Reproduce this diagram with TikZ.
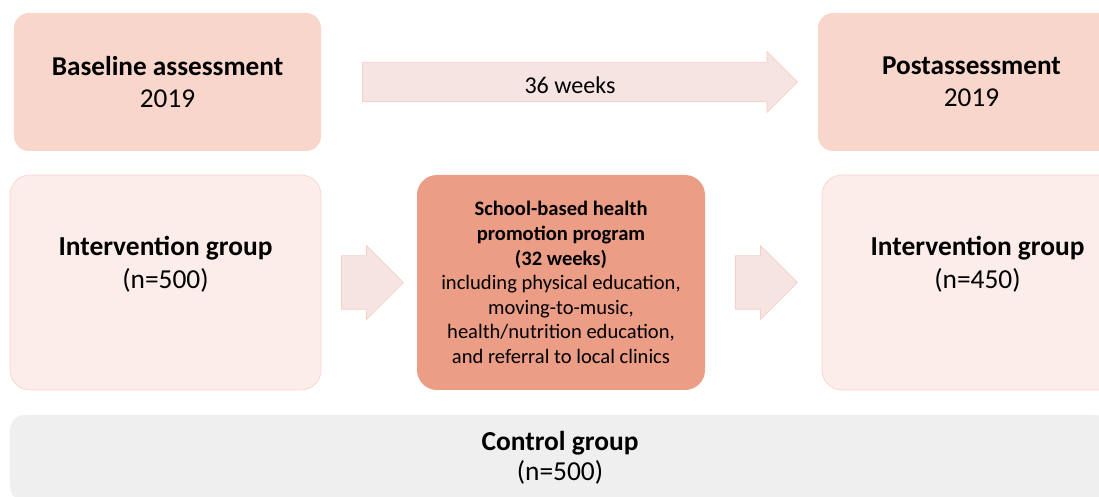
\documentclass[tikz,border=0pt]{standalone}
\usepackage{fontspec}
\setmainfont{Carlito}
\usetikzlibrary{shapes.arrows}
\definecolor{headfill}{RGB}{248,214,203}
\definecolor{groupfill}{RGB}{253,237,234}
\definecolor{groupline}{RGB}{248,212,202}
\definecolor{progfill}{RGB}{236,157,134}
\definecolor{arrowfill}{RGB}{246,228,226}
\definecolor{arrowline}{RGB}{245,208,196}
\definecolor{ctrlfill}{RGB}{239,239,239}

\begin{document}
\begin{tikzpicture}%
	\tikzstyle{head}=[rectangle, rounded corners=0.3cm, fill=headfill, minimum width=6.14cm, minimum height=2.76cm, align=center, font=\fontsize{15.5}{18}\selectfont];
	\tikzstyle{group}=[rectangle, rounded corners=0.4cm, fill=groupfill, draw=groupline, minimum width=6.22cm, minimum height=4.3cm, align=center, font=\fontsize{15.6}{18.5}\selectfont];
	\tikzstyle{bigarrow}=[single arrow, fill=arrowfill, draw=arrowline, inner xsep=0pt, inner ysep=0.16cm, text height=0.46cm, text depth=0pt, single arrow head extend=0.21cm];
	\tikzstyle{smallarrow}=[single arrow, fill=arrowfill, draw=arrowline, inner xsep=0pt, inner ysep=0.53cm, single arrow head extend=0.2cm, minimum height=1.24cm];
	\useasboundingbox (0, 0) rectangle (21.98, 9.94);
	\clip (0, 0) rectangle (21.98, 9.94);
	\node[head] (base) at (3.35, 8.3) {\textbf{Baseline assessment}\\2019};
	\node[head] (post) at (19.43, 8.3) {\textbf{Postassessment}\\2019};
	\node[bigarrow, minimum height=8.7cm, font=\fontsize{13.7}{16}\selectfont] (weeks) at (11.4, 8.3) {36 weeks};
	\node[group] (intleft) at (3.31, 4.29) {\textbf{Intervention group}\\(n=500)\\[0.15cm]};
	\node[smallarrow] (arrleft) at (7.18, 4.29) {};
	\node[rectangle, rounded corners=0.4cm, fill=progfill, minimum width=5.76cm, minimum height=4.3cm, align=center, font=\fontsize{11.7}{14}\selectfont] (prog) at (11.22, 4.29) {\textbf{School-based health}\\\textbf{promotion program}\\\textbf{(32 weeks)}\\including physical education,\\moving-to-music,\\health/nutrition education,\\and referral to local clinics};
	\node[smallarrow] (arrright) at (15.06, 4.29) {};
	\node[group] (intright) at (19.55, 4.29) {\textbf{Intervention group}\\(n=450)\\[0.15cm]};
	\node[rectangle, rounded corners=0.3cm, fill=ctrlfill, minimum width=22cm, minimum height=1.72cm, align=center, font=\fontsize{15.6}{17}\selectfont] (ctrl) at (11.2, 0.78) {\textbf{Control group}\\(n=500)};
\end{tikzpicture}
\end{document}
